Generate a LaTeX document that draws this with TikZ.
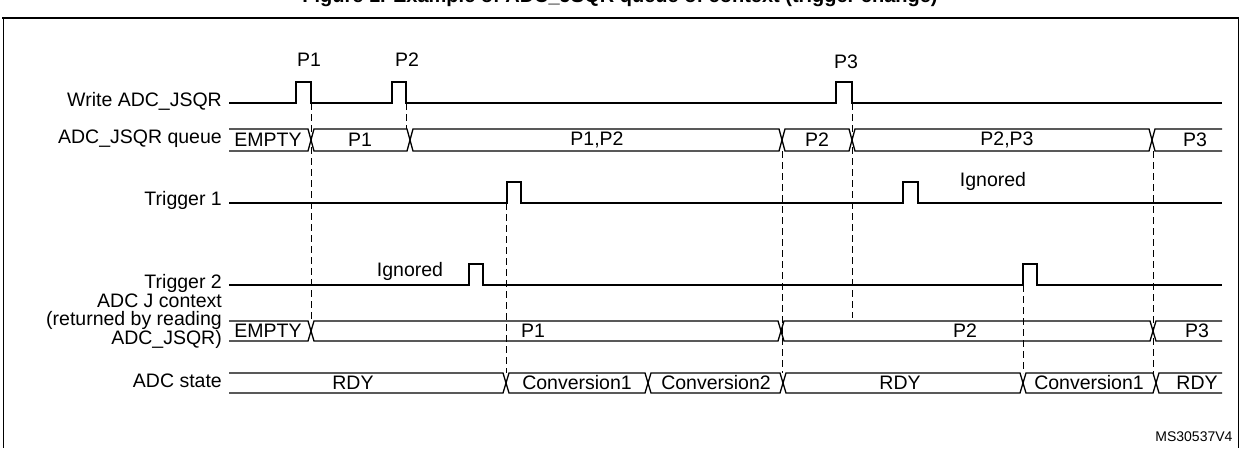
\documentclass[tikz,border=0pt]{standalone}
\usepackage{fontspec}
\setmainfont{Liberation Sans}
\usetikzlibrary{positioning}

% one bus segment with crossed ends
\newcommand{\busseg}[4]{%
  \draw[wave] (#1,#3) -- ++(3,-#4) -- ({#2-3},{#3-#4}) -- (#2,#3) -- ({#2-3},{#3+#4}) -- ({#1+3},{#3+#4}) -- cycle;}
\newcommand{\busfirst}[4]{%
  \draw[wave] (#1,{#3-#4}) -- ({#2-3},{#3-#4}) -- (#2,#3) -- ({#2-3},{#3+#4}) -- (#1,{#3+#4});}
\newcommand{\buslast}[4]{%
  \draw[wave] (#2,{#3-#4}) -- ({#1+3},{#3-#4}) -- (#1,#3) -- ({#1+3},{#3+#4}) -- (#2,{#3+#4});}
% low line with one pulse
\newcommand{\pulse}[3]{(#1,#3) -- (#1,{#3-21}) -- (#2,{#3-21}) -- (#2,#3)}

\begin{document}
\begin{tikzpicture}[x=1pt,y=-1pt,
    wave/.style={line width=1.3pt,line join=miter},
    sig/.style={anchor=east,font=\fontsize{19.5}{18}\selectfont,align=right,inner sep=2pt},
    lbl/.style={font=\fontsize{19.5}{19.5}\selectfont,inner sep=1pt},
    guide/.style={dash pattern=on 7pt off 4pt,line width=0.8pt}]
  \useasboundingbox (0,0) rectangle (1241,448);
  \begin{scope}
    \clip (0,0) rectangle (1241,448);
    \node[font=\bfseries\fontsize{20}{20}\selectfont] (title) at (620,-3) {Figure 1. Example of ADC\_JSQR queue of context (trigger change)};
  \end{scope}
  \draw[line width=2pt] (2,18) -- (1239,18);
  \draw[line width=0.8pt] (3,18) -- (3,448) (1238,18) -- (1238,448);

  % signal names
  \node[sig] (wr) at (224,101) {Write ADC\_JSQR};
  \node[sig] (qu) at (224,139) {ADC\_JSQR queue};
  \node[sig] (t1) at (224,200) {Trigger 1};
  \node[sig] (t2) at (224,283) {Trigger 2};
  \node[sig] (jc) at (224,321) {ADC J context\\(returned by reading\\ADC\_JSQR)};
  \node[sig] (st) at (224,381) {ADC state};

  % write pulses
  \draw[wave] (229,103) -- \pulse{296}{311}{103} -- \pulse{392}{406}{103} -- \pulse{836}{852}{103} -- (1222,103);
  \node[lbl] (p1) at (309,60) {P1};
  \node[lbl] (p2) at (407,60) {P2};
  \node[lbl] (p3) at (846,62) {P3};

  % triggers
  \draw[wave] (229,203) -- \pulse{507}{521}{203} -- \pulse{903}{918}{203} -- (1222,203);
  \draw[wave] (229,285) -- \pulse{469}{483}{285} -- \pulse{1023}{1037}{285} -- (1222,285);
  \node[lbl] (ign1) at (993,181) {Ignored};
  \node[lbl] (ign2) at (410,271) {Ignored};

  % queue
  \busfirst{229}{311}{140}{11}
  \busseg{311}{410}{140}{11}
  \busseg{410}{782}{140}{11}
  \busseg{782}{852}{140}{11}
  \busseg{852}{1152}{140}{11}
  \buslast{1152}{1222}{140}{11}
  \foreach \x/\t in {268/EMPTY,360/P1,597/{P1,P2},817/P2,1007/{P2,P3},1195/P3}
    \node[lbl] at (\x,140) {\t};

  % J context
  \busfirst{229}{311}{331}{10}
  \busseg{311}{781}{331}{10}
  \busseg{781}{1153}{331}{10}
  \buslast{1153}{1222}{331}{10}
  \foreach \x/\t in {268/EMPTY,533/P1,965/P2,1197/P3}
    \node[lbl] at (\x,331) {\t};

  % ADC state
  \busfirst{229}{506}{383}{10}
  \busseg{506}{648}{383}{10}
  \busseg{648}{783}{383}{10}
  \busseg{783}{1023}{383}{10}
  \busseg{1023}{1156}{383}{10}
  \buslast{1156}{1222}{383}{10}
  \foreach \x/\t in {353/RDY,577/Conversion1,716/Conversion2,900/RDY,1089/Conversion1,1197/RDY}
    \node[lbl] at (\x,383) {\t};

  % guides
  \draw[guide] (311,103) -- (311,322);
  \draw[guide] (406,103) -- (406,129);
  \draw[guide] (852,103) -- (852,318);
  \draw[guide] (506,203) -- (506,373);
  \draw[guide] (782,151) -- (782,373);
  \draw[guide] (1023,285) -- (1023,373);
  \draw[guide] (1153,151) -- (1153,373);

  \node[font=\fontsize{14}{14}\selectfont,anchor=east] (ref) at (1236,437) {MS30537V4};
\end{tikzpicture}
\end{document}
